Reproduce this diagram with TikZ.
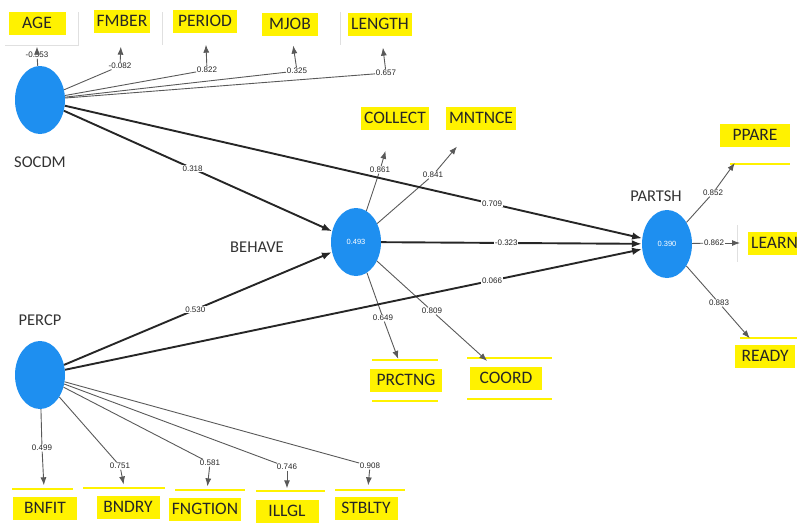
\documentclass[tikz,border=0pt]{standalone}
\usepackage{fontspec}
\setmainfont{Carlito}
\newfontfamily\numfont{Liberation Sans}
\usetikzlibrary{shapes.geometric,arrows.meta}
\definecolor{lvblue}{HTML}{1E8FF0}
\definecolor{indyellow}{HTML}{FFF200}
\tikzset{
  latent/.style={ellipse,fill=lvblue,minimum width=50pt,minimum height=68pt,inner sep=0pt,
    text=white,font=\numfont\fontsize{7.5}{7.5}\selectfont},
  ind/.style={fill=indyellow,font=\fontsize{17.5}{17.5}\selectfont,text=black!85,inner xsep=3pt,
    inner ysep=0pt,minimum height=23pt},
  val/.style={fill=white,inner sep=0.6pt,font=\numfont\fontsize{8}{8}\selectfont,text=black!85},
  lvname/.style={font=\fontsize{16.5}{16.5}\selectfont,text=black!80},
  struct/.style={line width=1.9pt,black!85},
  meas/.style={line width=0.9pt,black!65},
  tip/.style={-{Latex[length=8pt,width=6pt]}},
  bigtip/.style={-{Latex[length=10pt,width=7.5pt]}},
  rule/.style={indyellow,line width=1.5pt},
  faint/.style={black!12,line width=0.6pt}
}
\begin{document}
\begin{tikzpicture}[x=1pt,y=-1pt]
  \useasboundingbox (0,0) rectangle (797,525);
  \clip (0,0) rectangle (797,525);

  % latent variables
  \node[latent] (socdm) at (40,100) {};
  \node[latent] (percp) at (40,375) {};
  \node[latent] (behave) at (356,242) {0.493};
  \node[latent] (partsh) at (667,244) {0.390};
  \node[lvname] (socdmname) at (40,162) {SOCDM};
  \node[lvname] (percpname) at (40,320) {PERCP};
  \node[lvname] (behavename) at (257,247) {BEHAVE};
  \node[lvname] (partshname) at (656,196) {PARTSH};

  % indicators
  \node[ind,minimum width=57pt] (age) at (37,23) {AGE};
  \node[ind,minimum width=53pt] (fmber) at (122,21) {FMBER};
  \node[ind,minimum width=64pt] (period) at (205,21) {PERIOD};
  \node[ind,minimum width=56pt] (mjob) at (290,24) {MJOB};
  \node[ind,minimum width=64pt] (length) at (380,24) {LENGTH};
  \node[ind,minimum width=64pt] (collect) at (395,118) {COLLECT};
  \node[ind,minimum width=65pt] (mntnce) at (481,118) {MNTNCE};
  \node[ind,minimum width=72pt] (prctng) at (406,380) {PRCTNG};
  \node[ind,minimum width=72pt] (coord) at (506,378) {COORD};
  \node[ind,minimum width=70pt] (ppare) at (755,135) {PPARE};
  \node[ind,anchor=west] (learn) at (748,243) {LEARN};
  \node[ind,anchor=west,minimum width=60pt] (ready) at (735,356) {READY};
  \node[ind,minimum width=64pt] (bnfit) at (45,508) {BNFIT};
  \node[ind,minimum width=63pt] (bndry) at (128,507) {BNDRY};
  \node[ind,minimum width=71pt] (fngtion) at (205,509) {FNGTION};
  \node[ind,minimum width=63pt] (illgl) at (287,511) {ILLGL};
  \node[ind,minimum width=63pt] (stblty) at (366,508) {STBLTY};

  % yellow rules and faint frame lines
  \draw[rule] (372,360) -- (438,360);
  \draw[rule] (372,401) -- (438,401);
  \draw[rule] (467,358) -- (552,358);
  \draw[rule] (467,399) -- (552,399);
  \draw[rule] (730,164) -- (790,164);
  \draw[rule] (740,338) -- (797,338);
  \draw[rule] (12,489) -- (73,489);
  \draw[rule] (83,488) -- (165,488);
  \draw[rule] (175,490) -- (245,490);
  \draw[rule] (256,491) -- (325,491);
  \draw[rule] (335,490) -- (405,490);
  \draw[faint] (5,45) -- (78,45) -- (78,12);
  \draw[faint] (162,12) -- (162,45);
  \draw[faint] (340,12) -- (340,45);
  \draw[faint] (737,225) -- (737,262);

  % loadings
  \node[val] (vage) at (37,55) {-0.553};
  \node[val] (vfmber) at (120,66) {-0.082};
  \node[val] (vperiod) at (207,70) {0.822};
  \node[val] (vmjob) at (297,71) {0.325};
  \node[val] (vlength) at (386,73) {0.657};
  \node[val] (vcollect) at (380,170) {0.861};
  \node[val] (vmntnce) at (433,175) {0.841};
  \node[val] (vprctng) at (383,318) {0.649};
  \node[val] (vcoord) at (432,311) {0.809};
  \node[val] (vppare) at (713,193) {0.852};
  \node[val] (vlearn) at (714,243) {0.862};
  \node[val] (vready) at (719,303) {0.883};
  \node[val] (vbnfit) at (42,448) {0.499};
  \node[val] (vbndry) at (120,466) {0.751};
  \node[val] (vfngtion) at (210,463) {0.581};
  \node[val] (villgl) at (287,467) {0.746};
  \node[val] (vstblty) at (370,466) {0.908};

  \foreach \lv/\v/\i/\s in {socdm/vage/age/12,socdm/vfmber/fmber/14,socdm/vperiod/period/12,
      socdm/vmjob/mjob/10,socdm/vlength/length/12,behave/vcollect/collect/22,
      behave/vmntnce/mntnce/22,behave/vprctng/prctng/10,behave/vcoord/coord/8,
      partsh/vppare/ppare/20,partsh/vlearn/learn/8,partsh/vready/ready/8,
      percp/vbnfit/bnfit/11,percp/vbndry/bndry/11,percp/vfngtion/fngtion/11,
      percp/villgl/illgl/11,percp/vstblty/stblty/11}{
    \draw[meas] (\lv) -- (\v);
    \draw[meas,tip,shorten >=\s pt] (\v) -- (\i);
  }

  % structural paths
  \draw[struct,bigtip] (socdm) -- node[val,pos=0.48] {0.318} (behave);
  \draw[struct,bigtip] (socdm) -- node[val,pos=0.74] {0.709} (partsh);
  \draw[struct,bigtip] (behave) -- node[val,pos=0.48] {-0.323} (partsh);
  \draw[struct,bigtip] (percp) -- node[val,pos=0.49] {0.530} (behave);
  \draw[struct,bigtip] (percp) -- node[val,pos=0.74] {0.066} (partsh);
\end{tikzpicture}
\end{document}
